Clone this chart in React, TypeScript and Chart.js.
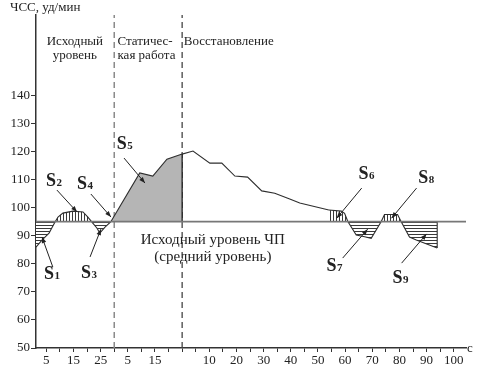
import { useEffect, useRef } from 'react';
import { Chart, registerables } from 'chart.js';

Chart.register(...registerables);

// ---- data ----
const BASE_LEVEL = 95; // mean resting HR level (ЧП)
const STATIC_START = 30; // s, start of static work
const RECOVERY_START = 55; // s, start of recovery
const X_MIN = 1.2;
const X_MAX = 159.5;
const Y_MIN = 50;
const Y_MAX = 168.5;

const restTime = [1.2, 3.4, 6.0, 8.2, 9.3, 11.1, 14.8, 18.5, 20.3, 21.8, 23.6, 24.7, 26.6, 28.8];
const restHR = [85.9, 88.4, 90.9, 94.8, 96.6, 98.0, 98.7, 98.4, 96.6, 94.8, 92.7, 90.9, 93.0, 95.0];

const staticTime = [28.8, 39.4, 44.2, 49.4, 55];
const staticHR = [95.0, 112.3, 111.2, 117.2, 119.0];

const recoveryTime = [55, 59.0, 65.2, 69.6, 74.4, 79.1, 84.3, 89.1, 94.6, 98.3, 109.0];
const recoveryHR = [119.0, 120.1, 115.8, 115.8, 111.2, 110.8, 105.9, 105.1, 103.0, 101.6, 99.1];

const lateTime = [109.0, 113.6, 114.8, 116.0, 119.1, 122.2, 124.6, 128.3, 129.5, 134.3, 135.6, 138.7, 141.2, 148.9];
const lateHR = [99.1, 98.7, 97.9, 95.0, 90.2, 89.6, 89.0, 95.0, 97.5, 97.5, 95.0, 89.5, 88.4, 85.6];

const yTickValues = [50, 60, 70, 80, 90, 100, 110, 120, 130, 140];
const xTickStep = 5;

// area labels: name, label position (t, hr), arrow from -> to (t, hr)
const areaNames = ['1', '2', '3', '4', '5', '6', '7', '8', '9'];
const areaLabelT = [6.0, 6.7, 19.6, 18.1, 32.8, 121.8, 110.0, 143.8, 134.3];
const areaLabelHR = [76.7, 109.8, 77.0, 108.7, 122.9, 112.3, 79.5, 110.8, 75.3];
const arrowFromT = [7.4, 8.9, 21.1, 21.4, 33.6, 121.1, 114.1, 141.3, 135.8];
const arrowFromHR = [78.8, 106.2, 82.4, 104.8, 117.6, 106.9, 82.0, 106.9, 80.2];
const arrowToT = [3.4, 16.3, 25.1, 28.8, 41.3, 111.9, 123.3, 132.1, 145.0];
const arrowToHR = [89.5, 98.4, 92.3, 96.6, 108.7, 96.2, 92.3, 96.2, 90.6];

const phaseTexts = [
  { lines: ['Исходный', 'уровень'], t: 15.5, hr: 158.9, align: 'center', size: 13, gap: 14 },
  { lines: ['Статичес-', 'кая работа'], t: 31.2, hr: 158.9, align: 'left', size: 13, gap: 14 },
  { lines: ['Восстановление'], t: 55.6, hr: 158.9, align: 'left', size: 13, gap: 14 },
  { lines: ['Исходный уровень ЧП', '(средний уровень)'], t: 66.3, hr: 88.4, align: 'center', size: 15, gap: 17 },
];

const zip = (xs: number[], ys: number[]) => xs.map((x, i) => ({ x, y: ys[i] }));

function makePattern(vertical: boolean): CanvasPattern | string {
  const c = document.createElement('canvas');
  c.width = 3;
  c.height = 3;
  const g = c.getContext('2d');
  if (!g) return '#999';
  g.fillStyle = '#ffffff';
  g.fillRect(0, 0, 3, 3);
  g.fillStyle = '#3a3a3a';
  if (vertical) g.fillRect(0, 0, 1, 3);
  else g.fillRect(0, 0, 3, 1);
  const p = g.createPattern(c, 'repeat');
  return p || '#999';
}

const SERIF = '"Liberation Serif", "DejaVu Serif", serif';

const annotPlugin = {
  id: 'annot',
  afterDatasetsDraw(chart: any) {
    const { ctx, chartArea } = chart;
    const xs = chart.scales.x;
    const ys = chart.scales.y;
    const px = (t: number) => xs.getPixelForValue(t);
    const py = (v: number) => ys.getPixelForValue(v);
    ctx.save();
    ctx.fillStyle = '#222';
    ctx.strokeStyle = '#222';

    // axis titles
    ctx.font = `13px ${SERIF}`;
    ctx.textAlign = 'left';
    ctx.textBaseline = 'middle';
    ctx.fillText('ЧСС, уд/мин', chartArea.left - 26, chartArea.top - 7);
    ctx.fillText('с', chartArea.right + 1, chartArea.bottom + 1);

    // phase texts
    for (const pt of phaseTexts) {
      ctx.font = `${pt.size}px ${SERIF}`;
      ctx.textAlign = pt.align as CanvasTextAlign;
      pt.lines.forEach((ln, i) => {
        ctx.fillText(ln, px(pt.t), py(pt.hr) + i * pt.gap);
      });
    }

    // arrows
    ctx.lineWidth = 1;
    for (let i = 0; i < areaNames.length; i++) {
      const x0 = px(arrowFromT[i]);
      const y0 = py(arrowFromHR[i]);
      const x1 = px(arrowToT[i]);
      const y1 = py(arrowToHR[i]);
      ctx.beginPath();
      ctx.moveTo(x0, y0);
      ctx.lineTo(x1, y1);
      ctx.stroke();
      const a = Math.atan2(y1 - y0, x1 - x0);
      const L = 6;
      const W = 2.3;
      ctx.beginPath();
      ctx.moveTo(x1, y1);
      ctx.lineTo(x1 - L * Math.cos(a) + W * Math.sin(a), y1 - L * Math.sin(a) - W * Math.cos(a));
      ctx.lineTo(x1 - L * Math.cos(a) - W * Math.sin(a), y1 - L * Math.sin(a) + W * Math.cos(a));
      ctx.closePath();
      ctx.fill();
    }

    // S labels
    ctx.textBaseline = 'alphabetic';
    for (let i = 0; i < areaNames.length; i++) {
      const x = px(areaLabelT[i]);
      const y = py(areaLabelHR[i]);
      ctx.font = `bold 18px ${SERIF}`;
      ctx.textAlign = 'center';
      ctx.fillText('S', x, y + 6);
      const w = ctx.measureText('S').width;
      ctx.font = `bold 11px ${SERIF}`;
      ctx.textAlign = 'left';
      ctx.fillText(areaNames[i], x + w / 2 + 0.5, y + 6);
    }
    ctx.restore();
  },
};

export default function App() {
  const ref = useRef<HTMLCanvasElement | null>(null);

  useEffect(() => {
    document.body.style.margin = '0';
    const canvas = ref.current;
    if (!canvas) return;
    const hatchV = makePattern(true);
    const hatchH = makePattern(false);
    const curve = '#2e2e2e';

    const chart = new Chart(canvas, {
      type: 'line',
      data: {
        datasets: [
          {
            label: 'baseline',
            data: zip([X_MIN, X_MAX], [BASE_LEVEL, BASE_LEVEL]),
            borderColor: '#777',
            borderWidth: 1.8,
            pointRadius: 0,
            fill: false,
            order: 0,
          },
          {
            label: 'rest',
            data: zip(restTime, restHR),
            borderColor: curve,
            borderWidth: 1.1,
            pointRadius: 0,
            fill: { target: { value: BASE_LEVEL }, above: hatchV, below: hatchH },
            order: 2,
          },
          {
            label: 'static',
            data: zip(staticTime, staticHR),
            borderColor: curve,
            borderWidth: 1.1,
            pointRadius: 0,
            fill: { target: { value: BASE_LEVEL }, above: '#b5b5b5', below: '#b5b5b5' },
            order: 2,
          },
          {
            label: 'recovery',
            data: zip(recoveryTime, recoveryHR),
            borderColor: curve,
            borderWidth: 1.1,
            pointRadius: 0,
            fill: false,
            order: 2,
          },
          {
            label: 'late',
            data: zip(lateTime, lateHR),
            borderColor: curve,
            borderWidth: 1.1,
            pointRadius: 0,
            fill: { target: { value: BASE_LEVEL }, above: hatchV, below: hatchH },
            order: 2,
          },
          {
            label: 'end edge',
            data: zip([lateTime[lateTime.length - 1], lateTime[lateTime.length - 1]], [lateHR[lateHR.length - 1], BASE_LEVEL]),
            borderColor: curve,
            borderWidth: 1.1,
            pointRadius: 0,
            fill: false,
            order: 1,
          },
          {
            label: 'static end edge',
            data: zip([RECOVERY_START, RECOVERY_START], [staticHR[staticHR.length - 1], BASE_LEVEL]),
            borderColor: '#222',
            borderWidth: 1.3,
            pointRadius: 0,
            fill: false,
            order: 1,
          },
          {
            label: 'static start',
            data: zip([STATIC_START, STATIC_START], [Y_MIN, Y_MAX]),
            borderColor: '#8a8a8a',
            borderWidth: 1.5,
            borderDash: [6, 4],
            pointRadius: 0,
            fill: false,
            order: 3,
          },
          {
            label: 'recovery start',
            data: zip([RECOVERY_START, RECOVERY_START], [Y_MIN, Y_MAX]),
            borderColor: '#444',
            borderWidth: 1.3,
            borderDash: [6, 4],
            pointRadius: 0,
            fill: false,
            order: 3,
          },
        ],
      },
      options: {
        animation: false,
        responsive: false,
        layout: { padding: { top: 15, right: 21, left: 0, bottom: 0 } },
        elements: { line: { tension: 0 } },
        plugins: {
          legend: { display: false },
          tooltip: { enabled: false },
        },
        scales: {
          x: {
            type: 'linear',
            min: X_MIN,
            max: X_MAX,
            afterFit: (s: any) => {
              s.height = 22;
            },
            afterBuildTicks: (s: any) => {
              const t: { value: number }[] = [];
              for (let v = xTickStep; v <= X_MAX; v += xTickStep) t.push({ value: v });
              s.ticks = t;
            },
            grid: {
              drawOnChartArea: false,
              drawTicks: true,
              tickLength: 4,
              color: '#333',
            },
            border: { display: true, color: '#333', width: 1.5 },
            ticks: {
              autoSkip: false,
              maxRotation: 0,
              padding: 1,
              color: '#222',
              font: { family: SERIF, size: 13 },
              callback: (val: any) => {
                const v = Number(val);
                if (v < STATIC_START) return v % 10 === 5 ? String(v) : '';
                if (v > STATIC_START && v < RECOVERY_START)
                  return (v - STATIC_START) % 10 === 5 ? String(v - STATIC_START) : '';
                if (v > RECOVERY_START) return (v - RECOVERY_START) % 10 === 0 ? String(v - RECOVERY_START) : '';
                return '';
              },
            },
          },
          y: {
            type: 'linear',
            min: Y_MIN,
            max: Y_MAX,
            afterFit: (s: any) => {
              s.width = 36;
            },
            afterBuildTicks: (s: any) => {
              s.ticks = yTickValues.map((v) => ({ value: v }));
            },
            grid: {
              drawOnChartArea: false,
              drawTicks: true,
              tickLength: 5,
              color: '#333',
            },
            border: { display: true, color: '#333', width: 1.5 },
            ticks: {
              padding: 1,
              color: '#222',
              font: { family: SERIF, size: 13 },
            },
          },
        },
      },
      plugins: [annotPlugin],
    });
    return () => chart.destroy();
  }, []);

  return (
    <div style={{ width: 487, height: 370 }}>
      <canvas ref={ref} width={487} height={370} />
    </div>
  );
}
